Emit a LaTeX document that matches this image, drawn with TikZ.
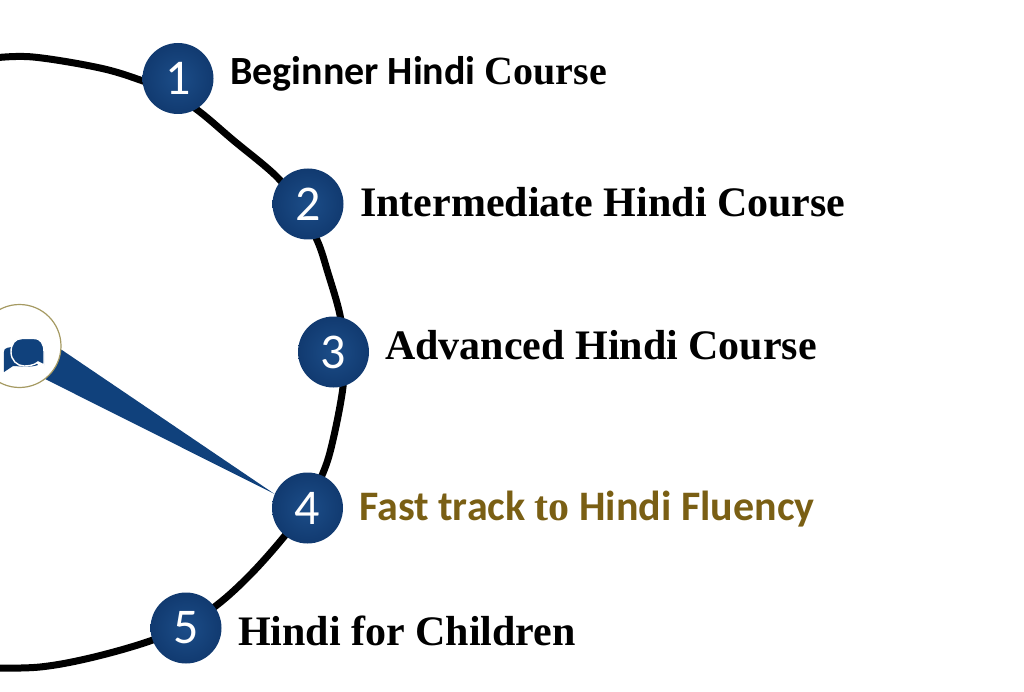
\documentclass[tikz,border=0pt]{standalone}
\usepackage{fontspec}
\usetikzlibrary{backgrounds}
\setmainfont{Liberation Serif}
\newfontfamily\calib{Carlito}
\definecolor{navyedge}{HTML}{113A70}
\definecolor{navymid}{HTML}{1C4D88}
\definecolor{wedgeblue}{HTML}{10417C}
\definecolor{olive}{HTML}{7A5F14}
\definecolor{ringgold}{HTML}{A59A62}
\tikzset{
  numdot/.style={circle,minimum size=71pt,inner sep=0pt,text=white,
    inner color=navymid,outer color=navyedge,
    font=\calib\fontsize{50}{50}\selectfont},
  rim/.style={line width=7pt,black},
  course/.style={anchor=base west,inner sep=0pt,font=\bfseries\fontsize{42}{42}\selectfont},
  mixcourse/.style={anchor=base west,inner sep=0pt,font=\bfseries\fontsize{40}{40}\selectfont},
  fastcourse/.style={anchor=base west,inner sep=0pt,text=olive,font=\bfseries\fontsize{42}{42}\selectfont},
}
\begin{document}
\begin{tikzpicture}[x=1pt,y=-1pt]
\useasboundingbox (0,0) rectangle (1024,692);
% icon ring and numbered dots
\node[circle,minimum size=83pt,inner sep=0pt,draw=ringgold,line width=1.2pt,fill=white] (icon) at (19.5,346) {};
\node[numdot] (n1) at (178,78.5) {1};
\node[numdot] (n2) at (308,204) {2};
\node[numdot] (n3) at (333.5,352) {3};
\node[numdot] (n4) at (307.5,508) {4};
\node[numdot] (n5) at (186,628) {5};
% rim and pointer wedge, behind the nodes
\begin{scope}[on background layer]
\draw[rim] plot[smooth,tension=.6] coordinates {
  (-6,58) (33,57) (100,68) (143,81) (172,93) (200,112) (233,140) (277,177)
  (298,206) (317,240) (328,273) (340,315) (344,350) (343,387) (333,440)
  (323,473) (305,508) (283,538) (250,575) (217,605) (184,626) (147,642)
  (90,658) (40,667) (-6,668)};
\fill[wedgeblue] (icon.-5) -- (n4.157) -- (icon.-52.6) -- cycle;
\end{scope}
% speech bubbles
\fill[wedgeblue] (4,372) .. controls (4,362) and (3,351) .. (5,349)
  .. controls (7,347) and (16,346) .. (22,348) -- (38,365)
  .. controls (30,368) and (18,366) .. (13,366) -- cycle;
\filldraw[wedgeblue,draw=white,line width=1.4pt] (11,352) .. controls (11,344) and (15,338.5) .. (22,338.5)
  -- (34,338.5) .. controls (41,338.5) and (44,344) .. (44,352)
  -- (44,365) -- (38,362) .. controls (34,365.5) and (28,366) .. (24,366)
  .. controls (17,366) and (11,360) .. (11,352) -- cycle;
% labels
\node[mixcourse] (t1) at (230,85) {{\calib Beginner Hindi }Course};
\node[course] (t2) at (360,217) {Intermediate Hindi Course};
\node[course] (t3) at (385,359) {Advanced Hindi Course};
\node[fastcourse] (t4) at (359,520) {{\calib Fast track }to{\calib{} Hindi Fluency}};
\node[course] (t5) at (238,645) {Hindi for Children};
\end{tikzpicture}
\end{document}
